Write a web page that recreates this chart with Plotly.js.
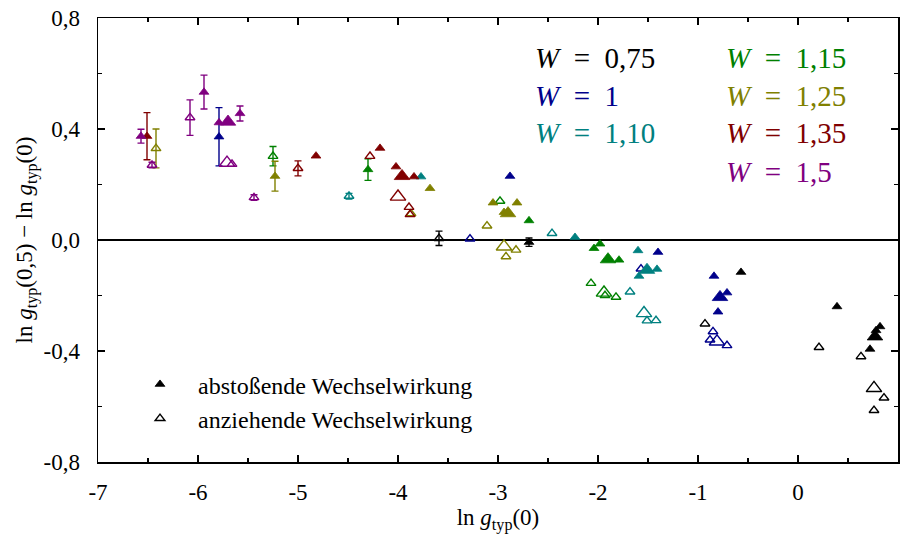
<!DOCTYPE html>
<html>
<head>
<meta charset="utf-8">
<script src="https://cdn.plot.ly/plotly-3.0.1.min.js"></script>
<style>html,body{margin:0;padding:0;background:#fff;}#chart{width:900px;height:534px;}</style>
</head>
<body>
<div id="chart"></div>
<script>
// ---------- Data ----------
// Tick labels
const xTickVals = [-7, -6, -5, -4, -3, -2, -1, 0, 1];
const xTickText = ['-7', '-6', '-5', '-4', '-3', '-2', '-1', '0', '1'];
const yTickVals = [-0.8, -0.4, 0, 0.4, 0.8];
const yTickText = ['-0,8', '-0,4', '0,0', '0,4', '0,8'];

const seriesLabels = ['0,75', '1', '1,10', '1,15', '1,25', '1,35', '1,5'];

// W = 0,75
const w075RepX = [-2.69, -0.57, 0.39, 0.82, 0.78, 0.72];
const w075RepY = [-0.008, -0.116, -0.240, -0.312, -0.326, -0.393];
const w075RepErr = [0.015, NaN, NaN, NaN, NaN, NaN];
const w075RepBigX = [0.77];
const w075RepBigY = [-0.348];
const w075AttX = [-3.59, -0.93, 0.21, 0.63, 0.86, 0.76];
const w075AttY = [0.006, -0.302, -0.387, -0.420, -0.569, -0.614];
const w075AttErr = [0.026, NaN, NaN, NaN, NaN, NaN];
const w075AttBigX = [0.76];
const w075AttBigY = [-0.534];

// W = 1
const w100RepX = [-5.79, -2.88, -1.40, -0.84, -0.71, -0.80];
const w100RepY = [0.372, 0.230, -0.044, -0.130, -0.190, -0.259];
const w100RepErr = [0.105, NaN, NaN, NaN, NaN, NaN];
const w100RepBigX = [-0.78];
const w100RepBigY = [-0.206];
const w100AttX = [-3.28, -1.57, -0.85, -0.88, -0.71];
const w100AttY = [0.004, -0.104, -0.330, -0.360, -0.380];
const w100AttErr = [NaN, NaN, NaN, NaN, NaN];
const w100AttBigX = [-0.81];
const w100AttBigY = [-0.366];

// W = 1,10
const w110RepX = [-3.77, -2.23, -1.60, -1.59, -1.41];
const w110RepY = [0.228, 0.010, -0.038, -0.130, -0.105];
const w110RepErr = [NaN, NaN, NaN, NaN, NaN];
const w110RepBigX = [-1.51];
const w110RepBigY = [-0.108];
const w110AttX = [-4.49, -2.46, -1.68, -1.51, -1.42];
const w110AttY = [0.158, 0.024, -0.187, -0.291, -0.290];
const w110AttErr = [0.010, NaN, NaN, NaN, NaN];
const w110AttBigX = [-1.54];
const w110AttBigY = [-0.264];

// W = 1,15
const w115RepX = [-4.30, -2.69, -2.04, -1.98, -1.79];
const w115RepY = [0.254, 0.070, -0.030, -0.014, -0.072];
const w115RepErr = [0.039, NaN, NaN, NaN, NaN];
const w115RepBigX = [-1.90];
const w115RepBigY = [-0.070];
const w115AttX = [-5.25, -2.98, -2.07, -1.93, -1.82];
const w115AttY = [0.302, 0.140, -0.156, -0.200, -0.206];
const w115AttErr = [0.035, NaN, NaN, NaN, NaN];
const w115AttBigX = [-1.94];
const w115AttBigY = [-0.190];

// W = 1,25
const w125RepX = [-5.23, -3.68, -3.05, -2.81, -2.94];
const w125RepY = [0.230, 0.186, 0.134, 0.134, 0.100];
const w125RepErr = [0.054, NaN, NaN, NaN, NaN];
const w125RepBigX = [-2.90];
const w125RepBigY = [0.096];
const w125AttX = [-6.42, -3.87, -3.11, -2.82, -2.92];
const w125AttY = [0.330, 0.095, 0.051, -0.036, -0.060];
const w125AttErr = [0.070, NaN, NaN, NaN, NaN];
const w125AttBigX = [-2.94];
const w125AttBigY = [-0.024];

// W = 1,35
const w135RepX = [-6.51, -4.82, -4.18, -4.02, -3.84];
const w135RepY = [0.374, 0.303, 0.331, 0.264, 0.228];
const w135RepErr = [0.085, NaN, NaN, NaN, NaN];
const w135RepBigX = [-3.96];
const w135RepBigY = [0.230];
const w135AttX = [-5.00, -4.28, -3.89, -3.88];
const w135AttY = [0.258, 0.302, 0.118, 0.092];
const w135AttErr = [0.027, NaN, NaN, NaN];
const w135AttBigX = [-4.00];
const w135AttBigY = [0.156];

// W = 1,5
const w150RepX = [-6.57, -5.94, -5.79, -5.58];
const w150RepY = [0.374, 0.533, 0.423, 0.456];
const w150RepErr = [0.025, 0.061, NaN, 0.027];
const w150RepBigX = [-5.70];
const w150RepBigY = [0.426];
const w150AttX = [-6.46, -6.08, -5.66, -5.44];
const w150AttY = [0.270, 0.441, 0.273, 0.153];
const w150AttErr = [0.010, 0.064, NaN, 0.010];
const w150AttBigX = [-5.71];
const w150AttBigY = [0.278];

const legendNames = ['abstoßende Wechselwirkung', 'anziehende Wechselwirkung'];

// ---------- Styling ----------
const FONT = '"Liberation Serif", "Times New Roman", serif';
const colors = ['#000000', '#00008b', '#008080', '#008000', '#808000', '#800000', '#800080'];
const SMALL = 8.5, BIG = 13.5;

const groups = [
  [w075RepX, w075RepY, w075RepErr, w075RepBigX, w075RepBigY, w075AttX, w075AttY, w075AttErr, w075AttBigX, w075AttBigY],
  [w100RepX, w100RepY, w100RepErr, w100RepBigX, w100RepBigY, w100AttX, w100AttY, w100AttErr, w100AttBigX, w100AttBigY],
  [w110RepX, w110RepY, w110RepErr, w110RepBigX, w110RepBigY, w110AttX, w110AttY, w110AttErr, w110AttBigX, w110AttBigY],
  [w115RepX, w115RepY, w115RepErr, w115RepBigX, w115RepBigY, w115AttX, w115AttY, w115AttErr, w115AttBigX, w115AttBigY],
  [w125RepX, w125RepY, w125RepErr, w125RepBigX, w125RepBigY, w125AttX, w125AttY, w125AttErr, w125AttBigX, w125AttBigY],
  [w135RepX, w135RepY, w135RepErr, w135RepBigX, w135RepBigY, w135AttX, w135AttY, w135AttErr, w135AttBigX, w135AttBigY],
  [w150RepX, w150RepY, w150RepErr, w150RepBigX, w150RepBigY, w150AttX, w150AttY, w150AttErr, w150AttBigX, w150AttBigY]
];

function mk(x, y, err, color, filled, size, name, showlegend, lg) {
  const t = {
    type: 'scatter', mode: 'markers', x: x, y: y,
    name: name || ' ', showlegend: !!showlegend, legendgroup: lg || undefined,
    hoverinfo: 'x+y',
    marker: {
      symbol: filled ? 'triangle-up' : 'triangle-up-open',
      size: size, color: color,
      line: {color: color, width: filled ? 0.8 : 1.4}
    },
    cliponaxis: false
  };
  if (err) {
    t.error_y = {type: 'data', array: err, symmetric: true, visible: true,
                 color: color, thickness: 1.4, width: 3.5};
  }
  return t;
}

const traces = [];
groups.forEach((g, i) => {
  const c = colors[i];
  const isFirst = i === 0;
  traces.push(mk(g[5], g[6], g[7], c, false, SMALL, isFirst ? legendNames[1] : '', isFirst, isFirst ? 'b' : null));
  traces.push(mk(g[8], g[9], null, c, false, BIG));
  traces.push(mk(g[0], g[1], g[2], c, true, SMALL, isFirst ? legendNames[0] : '', isFirst, isFirst ? 'a' : null));
  traces.push(mk(g[3], g[4], null, c, true, BIG));
});
traces.forEach(t => { if (t.legendgroup === 'a') t.legendrank = 1; if (t.legendgroup === 'b') t.legendrank = 2; });

const pos = [
  [0.544, 0.909], [0.544, 0.824], [0.544, 0.740],
  [0.782, 0.909], [0.782, 0.824], [0.782, 0.740], [0.782, 0.653]
];
const annotations = seriesLabels.map((lab, i) => ({
  xref: 'paper', yref: 'paper', x: pos[i][0], y: pos[i][1],
  xanchor: 'left', yanchor: 'middle', showarrow: false,
  text: '<i>W</i>\u2002=\u2002' + lab,
  font: {family: FONT, size: 29, color: colors[i]}
}));

const axisCommon = {
  ticks: 'inside', ticklen: 7, tickwidth: 1.3, tickcolor: '#000',
  showline: true, linecolor: '#000', linewidth: 1.5, mirror: 'allticks',
  showgrid: false, tickmode: 'array',
  tickfont: {family: FONT, size: 23, color: '#000'}
};

const layout = {
  width: 900, height: 534,
  margin: {l: 98, r: 2, t: 18, b: 72},
  paper_bgcolor: '#fff', plot_bgcolor: '#fff',
  font: {family: FONT, size: 23, color: '#000'},
  xaxis: Object.assign({}, axisCommon, {
    range: [-7, 1], tickvals: xTickVals, ticktext: xTickText, zeroline: false,
    ticklabelstandoff: 9,
    minor: {ticks: 'inside', ticklen: 4, tickwidth: 1.3, tickcolor: '#000', tickmode: 'linear', tick0: 0, dtick: 0.5, showgrid: false},
    title: {text: 'ln <i>g</i><sub>typ</sub>(0)', font: {family: FONT, size: 23, color: '#000'}, standoff: 2}
  }),
  yaxis: Object.assign({}, axisCommon, {
    range: [-0.8, 0.8], tickvals: yTickVals, ticktext: yTickText,
    zeroline: true, zerolinecolor: '#000', zerolinewidth: 1.5,
    ticklabelstandoff: 12,
    minor: {ticks: 'inside', ticklen: 4, tickwidth: 1.3, tickcolor: '#000', tickmode: 'linear', tick0: 0, dtick: 0.2, showgrid: false},
    title: {text: 'ln <i>g</i><sub>typ</sub>(0,5) \u2212 ln <i>g</i><sub>typ</sub>(0)', font: {family: FONT, size: 23, color: '#000'}, standoff: 4}
  }),
  showlegend: true,
  legend: {
    x: 0.03, y: 0.225, xanchor: 'left', yanchor: 'top',
    bgcolor: 'rgba(0,0,0,0)', borderwidth: 0,
    font: {family: FONT, size: 24, color: '#000'},
    itemwidth: 66, tracegroupgap: 2, traceorder: 'normal'
  },
  annotations: annotations
};

Plotly.newPlot('chart', traces, layout, {displayModeBar: false, staticPlot: true});
</script>
</body>
</html>
